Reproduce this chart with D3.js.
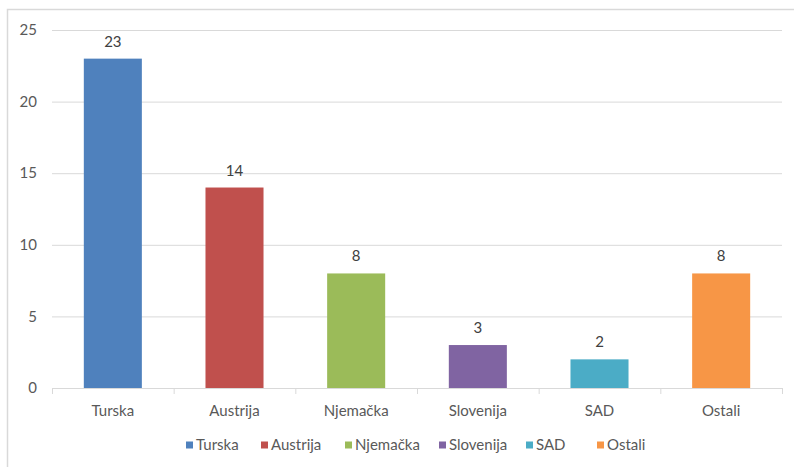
<!DOCTYPE html>
<html><head><meta charset="utf-8">
<script src="https://cdn.jsdelivr.net/npm/d3@7"></script>
<style>body{margin:0;background:#fff;} svg{display:block;font-family:Lato,"Open Sans",sans-serif;}</style>
</head><body>
<svg id="c" width="794" height="467"></svg>
<script>
const categories = ["Turska","Austrija","Njemačka","Slovenija","SAD","Ostali"];
const values = [23,14,8,3,2,8];
const colors = ["#4f81bd","#c0504d","#9bbb59","#8064a2","#4bacc6","#f79646"];
const yTicks = [0,5,10,15,20,25];

const svg = d3.select("#c");
// chart border
svg.append("rect").attr("x",7.5).attr("y",9.5).attr("width",800).attr("height",470)
  .attr("fill","none").attr("stroke","#d9d9d9").attr("stroke-width",1.5);

const x = d3.scaleBand().domain(categories).range([52,782]).paddingInner(0.523).paddingOuter(0.2615);
const y = d3.scaleLinear().domain([0,25]).range([388,30]);

// gridlines
svg.append("g").selectAll("line").data(yTicks.filter(d=>d>0)).join("line")
  .attr("x1",52).attr("x2",782).attr("y1",d=>y(d)+0.5).attr("y2",d=>y(d)+0.5)
  .attr("stroke","#d9d9d9").attr("stroke-width",1);

// y labels
svg.append("g").selectAll("text").data(yTicks).join("text")
  .attr("x",37).attr("y",d=>y(d)).attr("dy","0.35em").attr("text-anchor","end")
  .attr("fill","#595959").attr("font-size",15).text(d=>d);

// bars
svg.append("g").selectAll("rect").data(values).join("rect")
  .attr("x",(d,i)=>x(categories[i])).attr("width",x.bandwidth())
  .attr("y",d=>y(d)).attr("height",d=>y(0)-y(d))
  .attr("fill",(d,i)=>colors[i]);

// value labels
svg.append("g").selectAll("text").data(values).join("text")
  .attr("x",(d,i)=>x(categories[i])+x.bandwidth()/2).attr("y",d=>y(d)-12)
  .attr("text-anchor","middle").attr("fill","#404040").attr("font-size",15).text(d=>d);

// x axis
const step = (782-52)/categories.length;
svg.append("line").attr("x1",52).attr("x2",782).attr("y1",388.5).attr("y2",388.5).attr("stroke","#d9d9d9");
svg.append("g").selectAll("line").data(d3.range(categories.length+1)).join("line")
  .attr("x1",i=>52+i*step+0.5).attr("x2",i=>52+i*step+0.5).attr("y1",388).attr("y2",394).attr("stroke","#d9d9d9");
svg.append("g").selectAll("text").data(categories).join("text")
  .attr("x",d=>x(d)+x.bandwidth()/2).attr("y",411).attr("dy","0.35em").attr("text-anchor","middle")
  .attr("fill","#595959").attr("font-size",15).text(d=>d);

// legend
const legendX = [186,261,345,439,526,597];
const lg = svg.append("g").selectAll("g").data(categories).join("g")
  .attr("transform",(d,i)=>`translate(${legendX[i]},445)`);
lg.append("rect").attr("x",0).attr("y",-3.5).attr("width",7).attr("height",7).attr("fill",(d,i)=>colors[i]);
lg.append("text").attr("x",10).attr("y",0).attr("dy","0.35em").attr("fill","#595959").attr("font-size",15).text(d=>d);
</script>
</body></html>
